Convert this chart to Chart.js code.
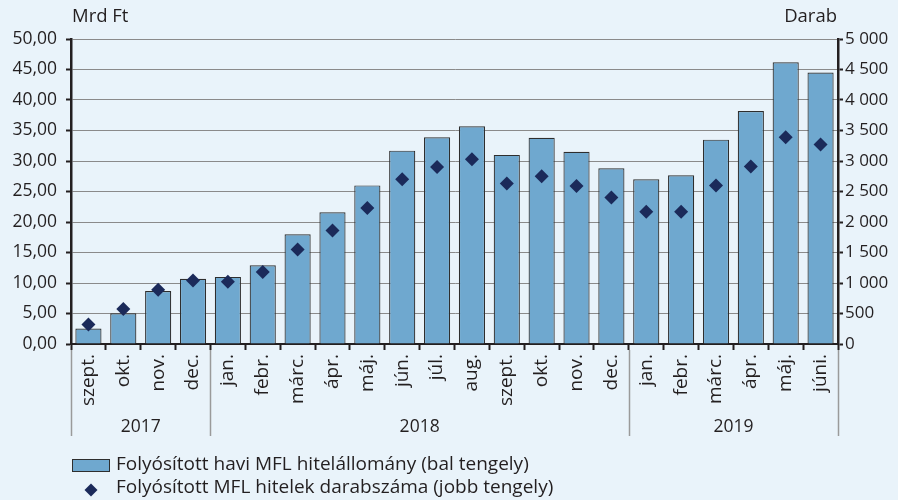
<!DOCTYPE html>
<html lang="hu">
<head>
<meta charset="utf-8">
<title>MFL hitelek</title>
<script src="https://cdn.jsdelivr.net/npm/chart.js@4.4.1/dist/chart.umd.min.js"></script>
<style>
  html, body { margin: 0; padding: 0; background: #E9F3FA; }
  #wrap { position: relative; width: 898px; height: 500px; }
  canvas { display: block; }
</style>
</head>
<body>
<div id="wrap"><canvas id="chart" width="898" height="500"></canvas></div>
<script>
// Hónapok (kategóriák)
const months = ['szept.', 'okt.', 'nov.', 'dec.',
  'jan.', 'febr.', 'márc.', 'ápr.', 'máj.', 'jún.', 'júl.', 'aug.', 'szept.', 'okt.', 'nov.', 'dec.',
  'jan.', 'febr.', 'márc.', 'ápr.', 'máj.', 'júni.'];

// Évek és a hozzájuk tartozó hónapok száma
const years = ['2017', '2018', '2019'];
const yearMonthCounts = [4, 12, 6];

// Folyósított havi MFL hitelállomány, Mrd Ft (bal tengely)
const volume = [2.55, 5.05, 8.7, 10.7, 11.0, 12.9, 18.0, 21.6, 26.0, 31.7, 33.9, 35.7,
  31.0, 33.8, 31.5, 28.8, 27.0, 27.65, 33.5, 38.2, 46.2, 44.5];

// Folyósított MFL hitelek darabszáma (jobb tengely)
const count = [320, 575, 890, 1040, 1020, 1180, 1550, 1860, 2230, 2700, 2900, 3030,
  2630, 2750, 2590, 2400, 2170, 2170, 2600, 2910, 3390, 3270];

const FONT = '"Open Sans", Lato, sans-serif';
const FONT_SIZE = 17;
const TEXT = '#231F20';
const BAR_FILL = '#6FA8CF';
const BAR_EDGE = '#2E2E2E';
const DIAMOND = '#1B2A5A';

const legendLabels = [
  'Folyósított havi MFL hitelállomány (bal tengely)',
  'Folyósított MFL hitelek darabszáma (jobb tengely)'
];

// Tengelycímek, évcsoportok és jelmagyarázat rajzolása
const decorations = {
  id: 'decorations',
  afterDraw(chart) {
    const ctx = chart.ctx;
    const x = chart.scales.x;
    const area = chart.chartArea;
    ctx.save();
    ctx.fillStyle = TEXT;
    ctx.textBaseline = 'middle';

    // tengelycímek
    ctx.font = '18.5px ' + FONT;
    ctx.textAlign = 'left';
    ctx.fillText('Mrd Ft', 72, 17);
    ctx.textAlign = 'right';
    ctx.fillText('Darab', 837, 17);

    // évcsoportok elválasztói és feliratai
    ctx.font = '17.5px ' + FONT;
    const step = (area.right - area.left) / months.length;
    let start = 0;
    const sepTop = area.bottom + 6;
    const sepBottom = 436;
    ctx.strokeStyle = '#9A9A9A';
    ctx.lineWidth = 1.5;
    const drawSep = (px) => {
      ctx.beginPath();
      ctx.moveTo(Math.round(px) + 0.5, sepTop);
      ctx.lineTo(Math.round(px) + 0.5, sepBottom);
      ctx.stroke();
    };
    drawSep(area.left);
    years.forEach((yr, i) => {
      const n = yearMonthCounts[i];
      const left = x.getPixelForValue(start) - step / 2;
      const right = x.getPixelForValue(start + n - 1) + step / 2;
      drawSep(right);
      ctx.textAlign = 'center';
      ctx.fillStyle = TEXT;
      ctx.fillText(yr, (left + right) / 2, 427);
      start += n;
    });

    // jelmagyarázat
    ctx.fillStyle = BAR_FILL;
    ctx.fillRect(72, 459, 37, 12);
    ctx.strokeStyle = BAR_EDGE;
    ctx.lineWidth = 1;
    ctx.strokeRect(72.5, 459.5, 37, 12);

    ctx.fillStyle = DIAMOND;
    ctx.beginPath();
    const cx = 91, cy = 490, r = 6.5;
    ctx.moveTo(cx, cy - r);
    ctx.lineTo(cx + r, cy);
    ctx.lineTo(cx, cy + r);
    ctx.lineTo(cx - r, cy);
    ctx.closePath();
    ctx.fill();

    ctx.font = '19px ' + FONT;
    ctx.fillStyle = TEXT;
    ctx.textAlign = 'left';
    ctx.fillText(legendLabels[0], 116, 465);
    ctx.fillText(legendLabels[1], 116, 488);
    ctx.restore();
  }
};

Chart.defaults.font.family = FONT;
Chart.defaults.font.size = FONT_SIZE;
Chart.defaults.color = TEXT;

new Chart(document.getElementById('chart'), {
  data: {
    labels: months,
    datasets: [
      {
        type: 'scatter',
        label: legendLabels[1],
        data: count,
        yAxisID: 'y1',
        showLine: false,
        pointStyle: 'rectRot',
        pointRadius: 7,
        pointHoverRadius: 7,
        backgroundColor: DIAMOND,
        borderColor: DIAMOND,
        borderWidth: 0,
        order: 0
      },
      {
        type: 'bar',
        label: legendLabels[0],
        data: volume,
        yAxisID: 'y',
        backgroundColor: BAR_FILL,
        borderColor: BAR_EDGE,
        borderWidth: 1.2,
        barPercentage: 0.75,
        categoryPercentage: 1.0,
        order: 1
      }
    ]
  },
  options: {
    responsive: false,
    animation: false,
    events: [],
    layout: { padding: { top: 39, left: 0, right: 0, bottom: 0 } },
    plugins: {
      legend: { display: false },
      tooltip: { enabled: false }
    },
    scales: {
      x: {
        type: 'category',
        offset: true,
        border: { display: true, color: '#231F20', width: 2 },
        grid: {
          offset: true,
          drawOnChartArea: false,
          drawTicks: true,
          tickLength: 6,
          tickColor: '#231F20',
          tickWidth: 2
        },
        ticks: {
          minRotation: 90,
          maxRotation: 90,
          autoSkip: false,
          padding: 4,
          font: { size: 19 },
          color: TEXT
        },
        afterFit(scale) { scale.height = 156; }
      },
      y: {
        position: 'left',
        min: 0,
        max: 50,
        border: { display: true, color: '#231F20', width: 2.5 },
        grid: {
          color: '#8A8A8A',
          lineWidth: 1,
          borderDash: [2, 4],
          drawTicks: true,
          tickLength: 5,
          tickColor: '#231F20',
          tickWidth: 2,
          tickBorderDash: []
        },
        ticks: {
          stepSize: 5,
          padding: 9,
          font: { size: 17.5 },
          color: TEXT,
          callback: (v) => v.toFixed(2).replace('.', ',')
        },
        afterFit(scale) { scale.width = 71; }
      },
      y1: {
        position: 'right',
        min: 0,
        max: 5000,
        border: { display: true, color: '#231F20', width: 2.5 },
        grid: {
          drawOnChartArea: false,
          drawTicks: true,
          tickLength: 5,
          tickColor: '#231F20',
          tickWidth: 2
        },
        ticks: {
          stepSize: 500,
          padding: 2,
          color: TEXT,
          callback: (v) => String(v).replace(/\B(?=(\d{3})+(?!\d))/g, ' ')
        },
        afterFit(scale) { scale.width = 60; }
      }
    }
  },
  plugins: [decorations]
});
</script>
</body>
</html>
